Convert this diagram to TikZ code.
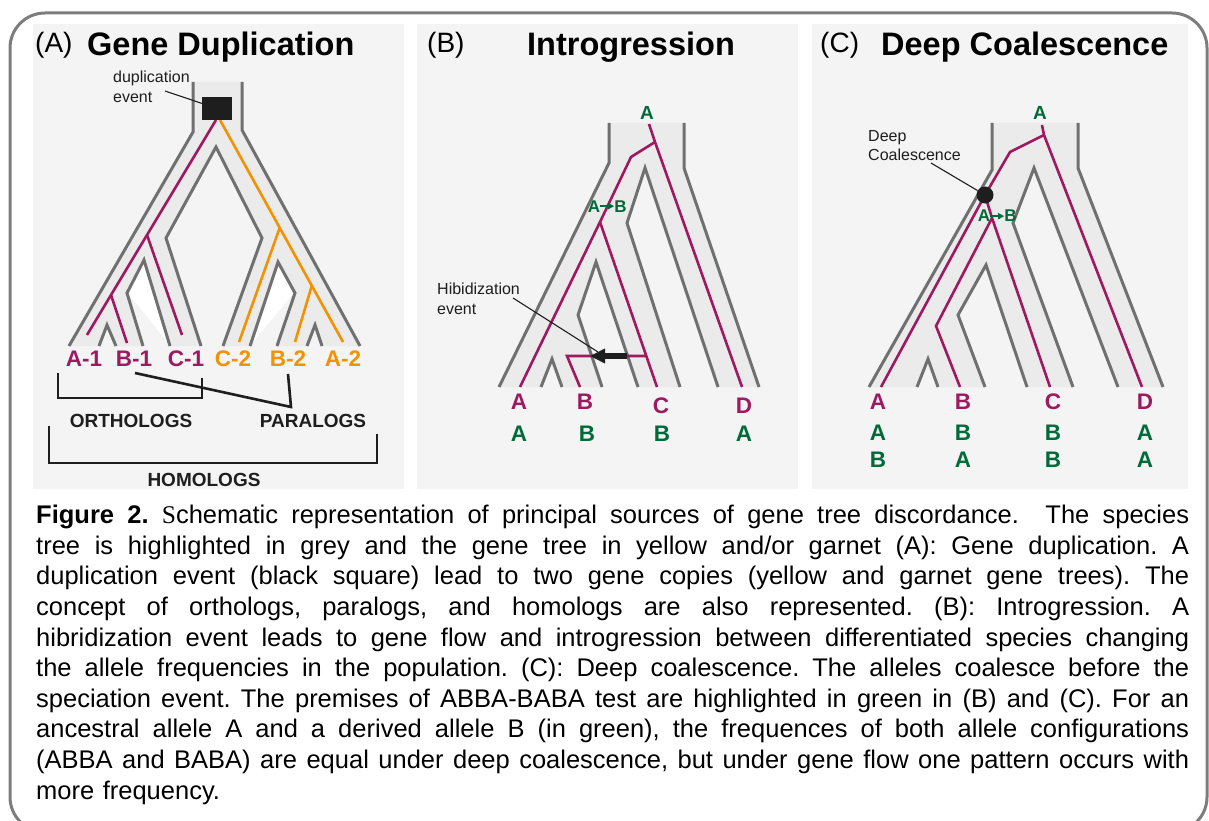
\documentclass[tikz,border=0pt]{standalone}
\usepackage{fontspec}
\setmainfont{Liberation Sans}
\newfontfamily\capserif{Liberation Serif}
\usetikzlibrary{arrows.meta}

\definecolor{garnet}{RGB}{158,26,96}
\definecolor{amber}{RGB}{242,146,0}
\definecolor{allele}{RGB}{0,106,58}
\definecolor{tubeline}{RGB}{112,112,112}
\definecolor{tubefill}{RGB}{235,235,235}
\definecolor{panelbg}{RGB}{244,244,244}
\definecolor{ink}{RGB}{30,30,30}
\definecolor{frameline}{RGB}{125,125,125}

% one justified caption line
\newcommand\capline[1]{\hbox to 1153pt{\spaceskip=0.278em plus 1fil\relax #1}}

\begin{document}
\begin{tikzpicture}[x=1pt,y=-1pt,
    species/.style={draw=tubeline,line width=3pt},
    tube/.style={fill=tubefill},
    gene/.style={draw=garnet,line width=2.6pt},
    paralog/.style={draw=amber,line width=2.6pt},
    panel/.style={fill=panelbg},
    tag/.style={font=\fontsize{28}{32}\selectfont,anchor=base west,inner sep=0pt},
    title/.style={font=\fontsize{32.5}{36}\selectfont\bfseries,anchor=base west,inner sep=0pt},
    leaf/.style={font=\fontsize{22.5}{26}\selectfont\bfseries,anchor=base,inner sep=0pt},
    ancestor/.style={font=\fontsize{19}{22}\selectfont\bfseries,text=allele,anchor=base,inner sep=0pt},
    mut/.style={font=\fontsize{17}{20}\selectfont\bfseries,text=allele,anchor=base,inner sep=0pt},
    mutarrow/.style={draw=allele,line width=1.6pt,-{Triangle[length=6pt,width=6pt]}},
    note/.style={font=\fontsize{16}{19.5}\selectfont,text=ink,align=left,anchor=north west,inner sep=0pt},
    group/.style={font=\fontsize{19}{22}\selectfont\bfseries,text=ink,anchor=base,inner sep=0pt},
    pointer/.style={draw=ink,line width=1.1pt},
    bracket/.style={draw=ink,line width=2.6pt},
    hybrid/.style={draw=ink,line width=5.5pt,-{Triangle[length=15pt,width=14pt]}}]
  \useasboundingbox (0,0) rectangle (1209,821);
  \fill[white] (0,0) rectangle (1209,821);
  \draw[frameline,line width=3pt,rounded corners=35pt] (10,13) rectangle (1207,832);

  % panel backgrounds
  \fill[panel] (33,24) rectangle (404,489);
  \fill[panel] (417,24) rectangle (798,489);
  \fill[panel] (812,24) rectangle (1188,489);

  \node[tag] (tag-a) at (35,53) {(A)};
  \node[title] (title-a) at (87,55.5) {Gene Duplication};
  \node[tag] (tag-b) at (427,53) {(B)};
  \node[title] (title-b) at (527,55.5) {Introgression};
  \node[tag] (tag-c) at (820,53) {(C)};
  \node[title] (title-c) at (881,55.5) {Deep Coalescence};

  %% (A) gene duplication
  \fill[tube] (193,82) -- (193,132) -- (69,346) -- (99,346) -- (107,325) -- (116,346)
    -- (143,346) -- (127,293) -- (144,260) -- (170,346) -- (201,346) -- (166,238)
    -- (216,147) -- (262,238) -- (223,346) -- (250,346) -- (278,262) -- (295,293)
    -- (277,346) -- (307,346) -- (315,325) -- (322,346) -- (360,346) -- (242,130)
    -- (242,82) -- cycle;
  \fill[white] (144,262) -- (128,293) -- (168,343) -- cycle;
  \fill[white] (278,262) -- (294,293) -- (252,343) -- cycle;
  \draw[species] (193,82) -- (193,132) -- (69,346);
  \draw[species] (99,346) -- (107,325) -- (116,346);
  \draw[species] (143,346) -- (127,293) -- (144,260) -- (170,346);
  \draw[species] (201,346) -- (166,238) -- (216,147) -- (262,238) -- (223,346);
  \draw[species] (250,346) -- (278,262) -- (295,293) -- (277,346);
  \draw[species] (307,346) -- (315,325) -- (322,346);
  \draw[species] (360,346) -- (242,130) -- (242,82);

  \coordinate (dup-g) at (216,120);
  \coordinate (dup-o) at (220,120);
  \coordinate (g-n1) at (147,235);
  \coordinate (g-n2) at (111,295);
  \coordinate (g-a1) at (87,335);
  \coordinate (g-b1) at (127,343);
  \coordinate (g-c1) at (182,335);
  \coordinate (o-n1) at (280,227);
  \coordinate (o-n2) at (312,285);
  \coordinate (o-c2) at (239,342);
  \coordinate (o-b2) at (295,342);
  \coordinate (o-a2) at (343,342);
  \draw[gene] (dup-g) -- (g-a1);
  \draw[gene] (g-n1) -- (g-c1);
  \draw[gene] (g-n2) -- (g-b1);
  \draw[paralog] (dup-o) -- (o-a2);
  \draw[paralog] (o-n1) -- (o-c2);
  \draw[paralog] (o-n2) -- (o-b2);
  \node[fill=ink,minimum width=30pt,minimum height=23pt,inner sep=0pt] (dup) at (217,108.5) {};

  \node[note] (dupnote) at (113,71) {duplication\\event};
  \coordinate (dup-tail) at (165,91);
  \draw[pointer] (dup-tail) -- (dup);

  \node[leaf,text=garnet] (a1) at (84,366) {A-1};
  \node[leaf,text=garnet] (b1) at (134,366) {B-1};
  \node[leaf,text=garnet] (c1) at (186,366) {C-1};
  \node[leaf,text=amber] (c2) at (233,366) {C-2};
  \node[leaf,text=amber] (b2) at (288,366) {B-2};
  \node[leaf,text=amber] (a2) at (343,366) {A-2};

  % brackets
  \coordinate (orth-l) at (58,373);
  \coordinate (orth-r) at (202,378);
  \coordinate (par-l) at (135,373);
  \coordinate (par-r) at (288,374);
  \coordinate (hom-l) at (49,426);
  \coordinate (hom-r) at (377,434);
  \draw[bracket] (orth-l) -- (58,398) -- (202,398) -- (orth-r);
  \draw[bracket] (par-l) -- (291,407) -- (par-r);
  \draw[bracket] (hom-l) -- (49,463) -- (377,463) -- (hom-r);
  \node[group] (orth) at (131,427) {ORTHOLOGS};
  \node[group] (par) at (313,427) {PARALOGS};
  \node[group] (hom) at (204,486) {HOMOLOGS};

  %% (B) introgression
  \fill[tube] (609,123) -- (609,163) -- (499,387) -- (541,387) -- (552,359) -- (562,387)
    -- (602,387) -- (578,315) -- (596,262) -- (638,387) -- (680,387) -- (627,223)
    -- (645,168) -- (718,387) -- (759,387) -- (684,168) -- (684,123) -- cycle;
  \draw[species] (609,123) -- (609,163) -- (499,387);
  \draw[species] (541,387) -- (552,359) -- (562,387);
  \draw[species] (602,387) -- (578,315) -- (596,262) -- (638,387);
  \draw[species] (680,387) -- (627,223) -- (645,168) -- (718,387);
  \draw[species] (759,387) -- (684,168) -- (684,123);

  \coordinate (b-root) at (649,124);
  \coordinate (b-n1) at (655,142);
  \coordinate (b-k1) at (631,157);
  \coordinate (b-n2) at (600,222);
  \coordinate (b-h1) at (646,356);
  \coordinate (b-h2) at (567,356);
  \coordinate (b-a) at (520,387);
  \coordinate (b-b) at (580,387);
  \coordinate (b-c) at (657,387);
  \coordinate (b-d) at (742,387);
  \draw[gene] (b-root) -- (b-n1) -- (b-d);
  \draw[gene] (b-n1) -- (b-k1) -- (b-n2) -- (b-a);
  \draw[gene] (b-n2) -- (b-c);
  \draw[gene] (b-h1) -- (b-h2) -- (b-b);

  \coordinate (hyb-from) at (627,356);
  \coordinate (hyb-to) at (590,356);
  \draw[hybrid] (hyb-from) -- (hyb-to);
  \node[note] (hybnote) at (437,283) {Hibidization\\event};
  \coordinate (hyb-tail) at (513,298);
  \draw[pointer] (hyb-tail) -- (598,352);

  \node[ancestor] (b-anc) at (647,120) {A};
  \node[mut] (b-mA) at (594,212) {A};
  \node[mut] (b-mB) at (620.5,212) {B};
  \draw[mutarrow] (b-mA) -- (b-mB);
  \node[leaf,text=garnet] (b-la) at (519,409) {A};
  \node[leaf,text=garnet] (b-lb) at (585,409) {B};
  \node[leaf,text=garnet] (b-lc) at (661,413) {C};
  \node[leaf,text=garnet] (b-ld) at (744,413) {D};
  \node[leaf,text=allele] (b-sa) at (519,441) {A};
  \node[leaf,text=allele] (b-sb) at (587,441) {B};
  \node[leaf,text=allele] (b-sc) at (662,441) {B};
  \node[leaf,text=allele] (b-sd) at (744,441) {A};

  %% (C) deep coalescence
  \fill[tube] (992,123) -- (992,170) -- (869,387) -- (917,387) -- (928,359) -- (938,387)
    -- (985,387) -- (958,315) -- (986,265) -- (1027,387) -- (1073,387) -- (1013,223)
    -- (1034,168) -- (1118,387) -- (1163,387) -- (1078,168) -- (1078,123) -- cycle;
  \draw[species] (992,123) -- (992,170) -- (869,387);
  \draw[species] (917,387) -- (928,359) -- (938,387);
  \draw[species] (985,387) -- (958,315) -- (986,265) -- (1027,387);
  \draw[species] (1073,387) -- (1013,223) -- (1034,168) -- (1118,387);
  \draw[species] (1163,387) -- (1078,168) -- (1078,123);

  \coordinate (c-root) at (1042,125);
  \coordinate (c-n1) at (1044,135);
  \coordinate (c-k1) at (1010,152);
  \coordinate (c-x) at (985,195);
  \coordinate (c-n2) at (992,218);
  \coordinate (c-k2) at (936,326);
  \coordinate (c-a) at (881,387);
  \coordinate (c-b) at (960,387);
  \coordinate (c-c) at (1050,387);
  \coordinate (c-d) at (1142,387);
  \draw[gene] (c-root) -- (c-n1) -- (c-d);
  \draw[gene] (c-n1) -- (c-k1) -- (c-x) -- (c-a);
  \draw[gene] (c-x) -- (c-n2) -- (c-c);
  \draw[gene] (c-n2) -- (c-k2) -- (c-b);
  \node[circle,fill=ink,minimum size=17pt,inner sep=0pt] (coal) at (c-x) {};

  \node[note] (coalnote) at (868,130) {Deep\\Coalescence};
  \coordinate (coal-tail) at (931,163);
  \draw[pointer] (coal-tail) -- (coal);

  \node[ancestor] (c-anc) at (1040,120) {A};
  \node[mut] (c-mA) at (984,222) {A};
  \node[mut] (c-mB) at (1010.5,222) {B};
  \draw[mutarrow] (c-mA) -- (c-mB);
  \node[leaf,text=garnet] (c-la) at (878,409) {A};
  \node[leaf,text=garnet] (c-lb) at (963,409) {B};
  \node[leaf,text=garnet] (c-lc) at (1053,409) {C};
  \node[leaf,text=garnet] (c-ld) at (1145,409) {D};
  \node[leaf,text=allele] (c-sa) at (878,440) {A};
  \node[leaf,text=allele] (c-sb) at (963,440) {B};
  \node[leaf,text=allele] (c-sc) at (1053,440) {B};
  \node[leaf,text=allele] (c-sd) at (1145,440) {A};
  \node[leaf,text=allele] (c-ta) at (878,467) {B};
  \node[leaf,text=allele] (c-tb) at (963,467) {A};
  \node[leaf,text=allele] (c-tc) at (1053,467) {B};
  \node[leaf,text=allele] (c-td) at (1145,467) {A};

  %% caption
  \node[anchor=north west,inner sep=0pt,text width=1153pt,
        font=\fontsize{25.5}{30.6}\selectfont] (caption) at (36,505) {\frenchspacing
    \capline{\textbf{Figure 2.} {\capserif S}chematic representation of principal sources of gene tree discordance.\ \ The species}
    \capline{tree is highlighted in grey and the gene tree in yellow and/or garnet (A): Gene duplication. A}
    \capline{duplication event (black square) lead to two gene copies (yellow and garnet gene trees). The}
    \capline{concept of orthologs, paralogs, and homologs are also represented. (B): Introgression. A}
    \capline{hibridization event leads to gene flow and introgression between differentiated species changing}
    \capline{the allele frequencies in the population. (C): Deep coalescence. The alleles coalesce before the}
    \capline{speciation event. The premises of ABBA-BABA test are highlighted in green in (B) and (C). For an}
    \capline{ancestral allele A and a derived allele B (in green), the frequences of both allele configurations}
    \capline{(ABBA and BABA) are equal under deep coalescence, but under gene flow one pattern occurs with}
    \hbox{more frequency.}};
\end{tikzpicture}
\end{document}
